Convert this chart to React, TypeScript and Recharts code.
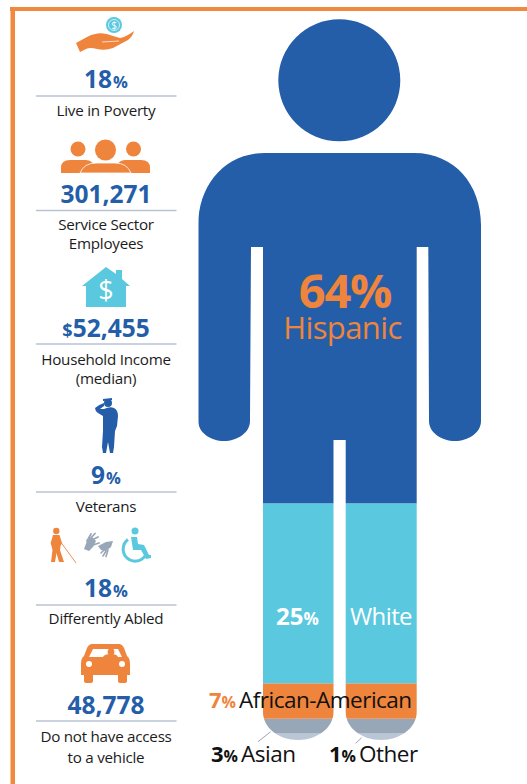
import React from 'react';
import { BarChart, Bar, XAxis, YAxis } from 'recharts';

const categories = ['Population'];
const seriesNames = ['Other', 'Asian', 'African-American', 'White', 'Hispanic'];
const seriesValues = [1, 3, 7, 25, 64];
const seriesColors = ['#BAC6D6', '#98A7B8', '#EF843C', '#5AC8DE', '#245EA8'];

const statValues = ['18', '301,271', '52,455', '9', '18', '48,778'];
const statPrefixes = ['', '', '$', '', '', ''];
const statSuffixes = ['%', '', '', '%', '%', ''];
const statCaptions = [
  ['Live in Poverty'],
  ['Service Sector', 'Employees'],
  ['Household Income', '(median)'],
  ['Veterans'],
  ['Differently Abled'],
  ['Do not have access', 'to a vehicle'],
];

// layout of the left column: baseline of the number, then the rule, then caption lines
const statLayout = [
  { num: 88, rule: 96, lines: [116] },
  { num: 203, rule: 210.5, lines: [230, 249] },
  { num: 336.5, rule: 344, lines: [365, 384] },
  { num: 484, rule: 492, lines: [512] },
  { num: 597, rule: 605, lines: [624] },
  { num: 714, rule: 721, lines: [742, 763] },
];

const FONT = '"Open Sans", sans-serif';
const BLUE = '#245EA8';
const ORANGE = '#EF843C';
const CYAN = '#5AC8DE';
const GREY = '#98A7B8';

const table = categories.map((name) => {
  const row: Record<string, any> = { name };
  seriesNames.forEach((s, i) => (row[s] = seriesValues[i]));
  return row;
});

// the figure is a pictogram, its bands are not to scale: piecewise scale, value -> share of the height
const scaleStops: [number, number][] = [
  [0, 0],
  [1, 0.009],
  [4, 0.0295],
  [11, 0.0786],
  [36, 0.3283],
  [100, 1],
];

function pictogramScale() {
  let dom = [0, 100];
  let ran = [0, 1];
  const s: any = (v: number) => {
    let f = 1;
    for (let i = 1; i < scaleStops.length; i++) {
      const [a, fa] = scaleStops[i - 1];
      const [b, fb] = scaleStops[i];
      if (v <= b) {
        f = fa + ((v - a) / (b - a)) * (fb - fa);
        break;
      }
    }
    return ran[0] + (ran[1] - ran[0]) * f;
  };
  s.domain = (d?: number[]) => {
    if (!d) return dom;
    dom = d;
    return s;
  };
  s.range = (r?: number[]) => {
    if (!r) return ran;
    ran = r;
    return s;
  };
  s.copy = () => pictogramScale().domain(dom).range(ran);
  s.ticks = () => dom;
  return s;
}

const BODY =
  'M198.3 225 C198.3 185 225 153 265 153 L414 153 C455 153 481 185 481 225 L481 421 ' +
  'C481 433 468 441 455 441 C442 441 429 433 429 421 L428.3 247 L416.7 247 L416.7 712 ' +
  'C416.7 728 400 740 381 740 C362 740 345.7 728 345.7 712 L345.7 440 L333.5 440 L333.5 712 ' +
  'C333.5 728 317 740 298 740 C279 740 263 728 263 712 L263 247 L251 247 L250 421 ' +
  'C250 433 237 441 224 441 C211 441 198.3 433 198.3 421 Z';

const ClippedBand = (props: any) => (
  <rect x={props.x} y={props.y} width={props.width} height={props.height} fill={props.fill} clipPath="url(#figure)" />
);

const Icons = () => (
  <g>
    {/* hand and coin */}
    <circle cx={114} cy={25} r={8} fill={CYAN} />
    <circle cx={114} cy={25} r={5.5} fill="none" stroke="#fff" strokeWidth={0.7} />
    <text x={114} y={29} textAnchor="middle" fontSize={10} fill="#fff" fontFamily={FONT}>$</text>
    <path d="M76 43 L87 37 Q100 30 113 36 L120 38 Q126 37 134 31 Q133 36 128 40 L113 48 Q105 51 97 49 Q90 47 86 49 L80 52 Z" fill={ORANGE} />
    <path d="M102 42 L119 41" stroke="#fff" strokeWidth={0.7} fill="none" />
    {/* people */}
    <circle cx={78} cy={149} r={7.5} fill={ORANGE} />
    <circle cx={133.5} cy={149} r={7.5} fill={ORANGE} />
    <path d="M61 173 L61 168 Q61 160 70 160 L86 160 Q94 160 98 173 Z" fill={ORANGE} />
    <path d="M150 173 L150 168 Q150 160 141 160 L125 160 Q117 160 113 173 Z" fill={ORANGE} />
    <circle cx={105.5} cy={150} r={10.5} fill={ORANGE} />
    <path d="M80 173 Q84 163 96 163 L115 163 Q127 163 131 173 Z" fill={ORANGE} stroke="#fff" strokeWidth={0.8} />
    {/* house */}
    <path d="M106 267 L116 274 L116 270 L122 270 L122 279 L130 286 L126 286 L126 307 L86 307 L86 286 L82 286 Z" fill={CYAN} />
    <text x={106} y={300} textAnchor="middle" fontSize={27} fill="#fff" fontFamily={FONT}>$</text>
    {/* saluting soldier */}
    <circle cx={108} cy={403} r={4} fill={BLUE} />
    <path d="M103 399 L112 398 L112 400 L103 401 Z M95 408 Q98 405 104 403 L104 406 L100 409 L104 409 Q110 406 114 408 Q118 410 118 416 L117 426 L115 431 L114 447 L113 453 L110 453 L108 442 L106 453 L103 453 L102 447 L103 431 L103 416 L98 413 Q95 411 95 408 Z" fill={BLUE} />
    {/* walker with cane */}
    <circle cx={56.3} cy={531} r={3.2} fill={ORANGE} />
    <path d="M53 535 L59.5 535 L62 543 L60.5 546 L60 550 L64 562 L59 562 L56.5 553 L55 562 L51 562 L52.5 550 L50.7 543 Z" fill={ORANGE} />
    <path d="M60 541 L76 563" stroke={ORANGE} strokeWidth={0.9} />
    {/* signing hands */}
    <path d="M84 549 L87 541 L92 537 L96 541 L93 547 L89 551 Z" fill={GREY} />
    <path d="M87 541 L91 534 M90 539 L95 533.5 M92 540 L98 537 M93 545 L99 543" stroke={GREY} strokeWidth={1.8} strokeLinecap="round" />
    <path d="M98 546 L106 542 L113 541 L111 547 L106 551 L101 550 Z" fill={GREY} />
    <path d="M104 550 L101 553 M106 551 L103 556 M108 550 L106 556.5" stroke={GREY} strokeWidth={1.6} strokeLinecap="round" />
    {/* wheelchair */}
    <circle cx={135} cy={531} r={3.5} fill={CYAN} />
    <path d="M131 537 L137 537 L138 544 L144 545 L149 555 L151 555 L151 558 L146 559 L141 550 L133 550 Z" fill={CYAN} />
    <path d="M128 539.5 A12 12 0 1 0 145 556" fill="none" stroke={CYAN} strokeWidth={3} />
    {/* car */}
    <path d="M92 644 L119 644 Q122 644 124 648 L127 656 Q130 658 130 664 L130 675 L127 675 L127 681 Q127 683 124 683 L121 683 Q118 683 118 681 L118 675 L93 675 L93 681 Q93 683 90 683 L87 683 Q84 683 84 681 L84 675 L81 675 L81 664 Q81 658 84 656 L87 648 Q89 644 92 644 Z" fill={ORANGE} />
    <path d="M93 649 L118 649 L122 657 L89 657 Z" fill="#fff" />
    <circle cx={111} cy={652} r={3.4} fill={ORANGE} />
    <path d="M103 657 Q104 654 111 654 Q117 654 118 657 Z" fill={ORANGE} />
    <circle cx={89} cy={664} r={3} fill="#fff" />
    <circle cx={122} cy={664} r={3} fill="#fff" />
  </g>
);

const StatColumn = () => (
  <g fontFamily={FONT}>
    {statValues.map((v, i) => {
      const l = statLayout[i];
      return (
        <g key={i}>
          <text x={106} y={l.num} textAnchor="middle" fill={BLUE} fontWeight={700} fontSize={24.5}>
            {statPrefixes[i] && <tspan fontSize={18}>{statPrefixes[i]}</tspan>}
            {v}
            {statSuffixes[i] && <tspan fontSize={16.5} dx={1}>{statSuffixes[i]}</tspan>}
          </text>
          <line x1={36} x2={176.5} y1={l.rule} y2={l.rule} stroke="#B7C3D3" strokeWidth={1.4} />
          {statCaptions[i].map((c, j) => (
            <text key={j} x={106} y={l.lines[j]} textAnchor="middle" fill="#1c1c1c" fontSize={15.2} letterSpacing={-0.25}>
              {c}
            </text>
          ))}
        </g>
      );
    })}
  </g>
);

// series labels sit over the bars, so they get their own svg on top of the chart
const FigureLabels = () => (
  <svg width={527} height={784} style={{ position: 'absolute', left: 0, top: 0 }}>
    <g fontFamily={FONT}>
      <text x={345} y={308} textAnchor="middle" fill={ORANGE} fontWeight={700} fontSize={47} letterSpacing={-1.2}>64%</text>
      <text x={342.5} y={339} textAnchor="middle" fill={ORANGE} fontSize={31} letterSpacing={-0.6}>Hispanic</text>

      <text x={276} y={625} fill="#fff" fontWeight={700} fontSize={24}>25<tspan fontSize={17}>%</tspan></text>
      <text x={350} y={625} fill="#fff" fontSize={24} letterSpacing={-0.6}>White</text>

      <text x={209} y={708} fill={ORANGE} fontWeight={700} fontSize={22}>7<tspan fontSize={16}>%</tspan></text>
      <text x={239} y={708} fill="#111" fontSize={22.5} letterSpacing={-0.5}>African-American</text>

      <text x={211} y={762} fill="#111" fontWeight={700} fontSize={22}>3<tspan fontSize={16}>%</tspan></text>
      <text x={241} y={762} fill="#111" fontSize={22.5} letterSpacing={-0.5}>Asian</text>
      <text x={329} y={762} fill="#111" fontWeight={700} fontSize={22}>1<tspan fontSize={16}>%</tspan></text>
      <text x={359} y={762} fill="#111" fontSize={22.5} letterSpacing={-0.5}>Other</text>

      <line x1={270.7} y1={731.7} x2={258} y2={741.7} stroke={GREY} strokeWidth={1} />
      <line x1={361.7} y1={737.7} x2={355.7} y2={743.3} stroke={GREY} strokeWidth={1} />
    </g>
  </svg>
);

export default function App() {
  return (
    <div style={{ position: 'absolute', left: 0, top: 0, width: 527, height: 784, background: '#fff', overflow: 'hidden' }}>
      <BarChart
        width={527}
        height={784}
        data={table}
        barCategoryGap={0}
        margin={{ top: 19, right: 46, bottom: 44, left: 198.3 }}
      >
        <defs>
          <clipPath id="figure" clipPathUnits="userSpaceOnUse">
            <circle cx={339.3} cy={80.3} r={61} />
            <path d={BODY} />
          </clipPath>
        </defs>
        <XAxis dataKey="name" hide />
        <YAxis type="number" hide domain={[0, 100]} scale={pictogramScale() as any} />
        {seriesNames.map((s, i) => (
          <Bar key={s} dataKey={s} stackId="pop" fill={seriesColors[i]} isAnimationActive={false} shape={ClippedBand} />
        ))}

        <rect x={10} y={7} width={517} height={4} fill="#F0883E" />
        <rect x={10.5} y={7} width={4.5} height={777} fill="#F0883E" />

        <Icons />
        <StatColumn />
      </BarChart>
      <FigureLabels />
    </div>
  );
}
